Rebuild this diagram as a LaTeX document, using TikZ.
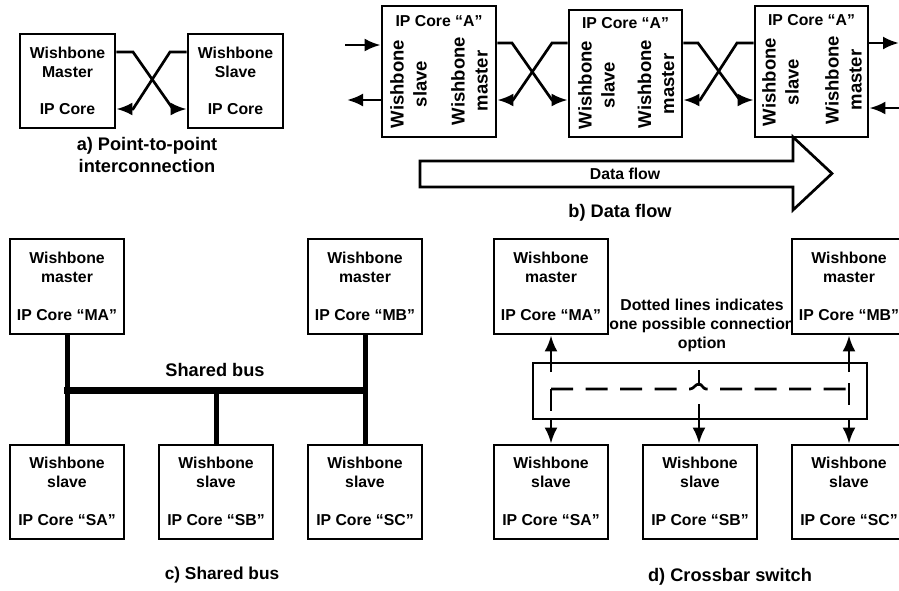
\documentclass[tikz,border=0pt]{standalone}
\usepackage{fontspec}
\setmainfont{Liberation Sans}
\usetikzlibrary{arrows.meta}

\tikzset{
  blk/.style={draw, line width=2.8pt, fill=white, inner sep=0pt},
  lbl/.style={font=\fontsize{15.8}{19}\selectfont\bfseries, align=center, inner sep=0pt},
  vlbl/.style={font=\fontsize{18.5}{23}\selectfont\bfseries, align=center, inner sep=0pt, rotate=90},
  subcap/.style={font=\fontsize{18.2}{22}\selectfont\bfseries, align=center, inner sep=0pt},
  wire/.style={line width=2.7pt},
  tip/.style={-{Latex[length=16pt,width=13pt]}},
  bus/.style={line width=7pt},
  drop/.style={line width=5pt},
  dash34/.style={wire, dash pattern=on 22pt off 12.5pt},
}

\begin{document}
\begin{tikzpicture}[x=1pt,y=-1pt]
\useasboundingbox (0,0) rectangle (899,590);
\fill[white] (0,0) rectangle (899,590);
\clip (0,0) rectangle (899,590);

% ---------- a) point-to-point ----------
\node[blk, minimum width=95pt, minimum height=94pt] (pm) at (67.5,81) {};
\node[blk, minimum width=95pt, minimum height=94pt] (ps) at (235.5,81) {};
\node[lbl] (pm-t) at (67.5,62.5) {Wishbone\\Master};
\node[lbl] (pm-b) at (67.5,109) {IP Core};
\node[lbl] (ps-t) at (235.5,62.5) {Wishbone\\Slave};
\node[lbl] (ps-b) at (235.5,109) {IP Core};
\draw[wire,tip] (pm.east |- 0,52) -- (133,52) -- (173,109) -- (ps.west |- 0,109);
\draw[wire,tip] (ps.west |- 0,52) -- (170,52) -- (133,109) -- (pm.east |- 0,109);
\node[subcap] (cap-a) at (147,155) {a) Point-to-point\\interconnection};

% ---------- b) data flow ----------
\node[blk, minimum width=114pt, minimum height=131pt] (b1) at (439,71.5) {};
\node[blk, minimum width=113pt, minimum height=127pt] (b2) at (625.5,73.5) {};
\node[blk, minimum width=113pt, minimum height=131pt] (b3) at (811.5,71.5) {};
\node[lbl] (b1-t) at (439,21) {IP Core “A”};
\node[lbl] (b2-t) at (625.5,23) {IP Core “A”};
\node[lbl] (b3-t) at (811.5,20) {IP Core “A”};
\node[vlbl] (b1-s) at (408.5,84) {Wishbone\\slave};
\node[vlbl] (b1-m) at (469.5,81) {Wishbone\\master};
\node[vlbl] (b2-s) at (596.5,85) {Wishbone\\slave};
\node[vlbl] (b2-m) at (656,84) {Wishbone\\master};
\node[vlbl] (b3-s) at (780.5,82) {Wishbone\\slave};
\node[vlbl] (b3-m) at (843.5,80) {Wishbone\\master};

\coordinate (in1) at (345,45);
\coordinate (out1) at (347,100);
\coordinate (out3) at (899,43);
\coordinate (in3) at (899,108);
\draw[wire,tip] (in1) -- (b1.west |- in1);
\draw[wire,tip] (b1.west |- out1) -- (out1);
\draw[wire,tip] (b1.east |- 0,43) -- (512,43) -- (552,100) -- (b2.west |- 0,100);
\draw[wire,tip] (b2.west |- 0,43) -- (552,43) -- (513,100) -- (b1.east |- 0,100);
\draw[wire,tip] (b2.east |- 0,43) -- (698,43) -- (740,100) -- (b3.west |- 0,100);
\draw[wire,tip] (b3.west |- 0,43) -- (737,43) -- (700,100) -- (b2.east |- 0,100);
\draw[wire,tip] (b3.east |- out3) -- (out3);
\draw[wire,tip] (in3) -- (b3.east |- in3);

% big data-flow arrow
\draw[line width=2.7pt, line join=miter, fill=white]
  (420,161) -- (793,161) -- (793,137) -- (832,173.5) -- (793,210) -- (793,187) -- (420,187) -- cycle;
\node[lbl] (flow) at (625,174) {Data flow};
\node[subcap] (cap-b) at (620,213) {b) Data flow};

% ---------- c) shared bus ----------
\node[blk, minimum width=114pt, minimum height=95pt] (cma) at (67,286.5) {};
\node[blk, minimum width=114pt, minimum height=95pt] (cmb) at (365,286.5) {};
\node[blk, minimum width=114pt, minimum height=94pt] (csa) at (67,492) {};
\node[blk, minimum width=114pt, minimum height=94pt] (csb) at (216,492) {};
\node[blk, minimum width=114pt, minimum height=94pt] (csc) at (365,492) {};
\node[lbl] (cma-t) at (67,267.5) {Wishbone\\master};
\node[lbl] (cma-b) at (67,315) {IP Core “MA”};
\node[lbl] (cmb-t) at (365,267.5) {Wishbone\\master};
\node[lbl] (cmb-b) at (365,315) {IP Core “MB”};
\node[lbl] (csa-t) at (67,472.5) {Wishbone\\slave};
\node[lbl] (csa-b) at (67,520) {IP Core “SA”};
\node[lbl] (csb-t) at (216,472.5) {Wishbone\\slave};
\node[lbl] (csb-b) at (216,520) {IP Core “SB”};
\node[lbl] (csc-t) at (365,472.5) {Wishbone\\slave};
\node[lbl] (csc-b) at (365,520) {IP Core “SC”};

\draw[drop] (cma.south) -- (csa.north);
\draw[drop] (cmb.south) -- (csc.north);
\draw[drop] (csb.north) -- (csb.north |- 0,390);
\draw[bus] ([xshift=-3pt]cma.south |- 0,390) -- ([xshift=3pt]cmb.south |- 0,390);
\node[lbl, font=\fontsize{18.2}{20}\selectfont\bfseries] (busname) at (215,370) {Shared bus};
\node[subcap, font=\fontsize{17.3}{20}\selectfont\bfseries] (cap-c) at (222,575) {c) Shared bus};

% ---------- d) crossbar switch ----------
\node[lbl] (note) at (702,325) {Dotted lines indicates\\one possible connection\\option};
\node[blk, minimum width=114pt, minimum height=95pt] (dma) at (551,286.5) {};
\node[blk, minimum width=114pt, minimum height=95pt] (dmb) at (849,286.5) {};
\node[blk, minimum width=114pt, minimum height=94pt] (dsa) at (551,492) {};
\node[blk, minimum width=114pt, minimum height=94pt] (dsb) at (700,492) {};
\node[blk, minimum width=114pt, minimum height=94pt] (dsc) at (849,492) {};
\node[lbl] (dma-t) at (551,267.5) {Wishbone\\master};
\node[lbl] (dma-b) at (551,315) {IP Core “MA”};
\node[lbl] (dmb-t) at (849,267.5) {Wishbone\\master};
\node[lbl] (dmb-b) at (849,315) {IP Core “MB”};
\node[lbl] (dsa-t) at (551,472.5) {Wishbone\\slave};
\node[lbl] (dsa-b) at (551,520) {IP Core “SA”};
\node[lbl] (dsb-t) at (700,472.5) {Wishbone\\slave};
\node[lbl] (dsb-b) at (700,520) {IP Core “SB”};
\node[lbl] (dsc-t) at (849,472.5) {Wishbone\\slave};
\node[lbl] (dsc-b) at (849,520) {IP Core “SC”};

\node[blk, minimum width=334pt, minimum height=56pt] (xbar) at (700,391) {};

% ports of the switch
\draw[wire,tip] (dma.south |- 0,372) -- (dma.south);
\draw[wire,tip] (dmb.south |- 0,372) -- (dmb.south);
\draw[wire,tip] (dsa.north |- xbar.south) -- (dsa.north);
\draw[wire,tip] ([xshift=-1pt]dsb.north |- 0,404) -- ([xshift=-1pt]dsb.north);
\draw[wire,tip] (dsc.north |- xbar.south) -- (dsc.north);
\draw[wire] ([xshift=-1pt]dsb.north |- 0,370) -- ([xshift=-1pt]dsb.north |- 0,386);

% one possible path through the switch
\draw[dash34] (dsa.north |- 0,389) -- (dsa.north |- 0,411);
\draw[dash34] (dsa.north |- 0,389) -- (690,389)
  .. controls (694,389) and (695,384) .. (699,384)
  .. controls (702,384) and (703,389) .. (706,389) -- (dsc.north |- 0,389);
\draw[wire] (dsc.north |- 0,383) -- (dsc.north |- 0,405);

\node[subcap] (cap-d) at (730,577) {d) Crossbar switch};
\end{tikzpicture}
\end{document}
